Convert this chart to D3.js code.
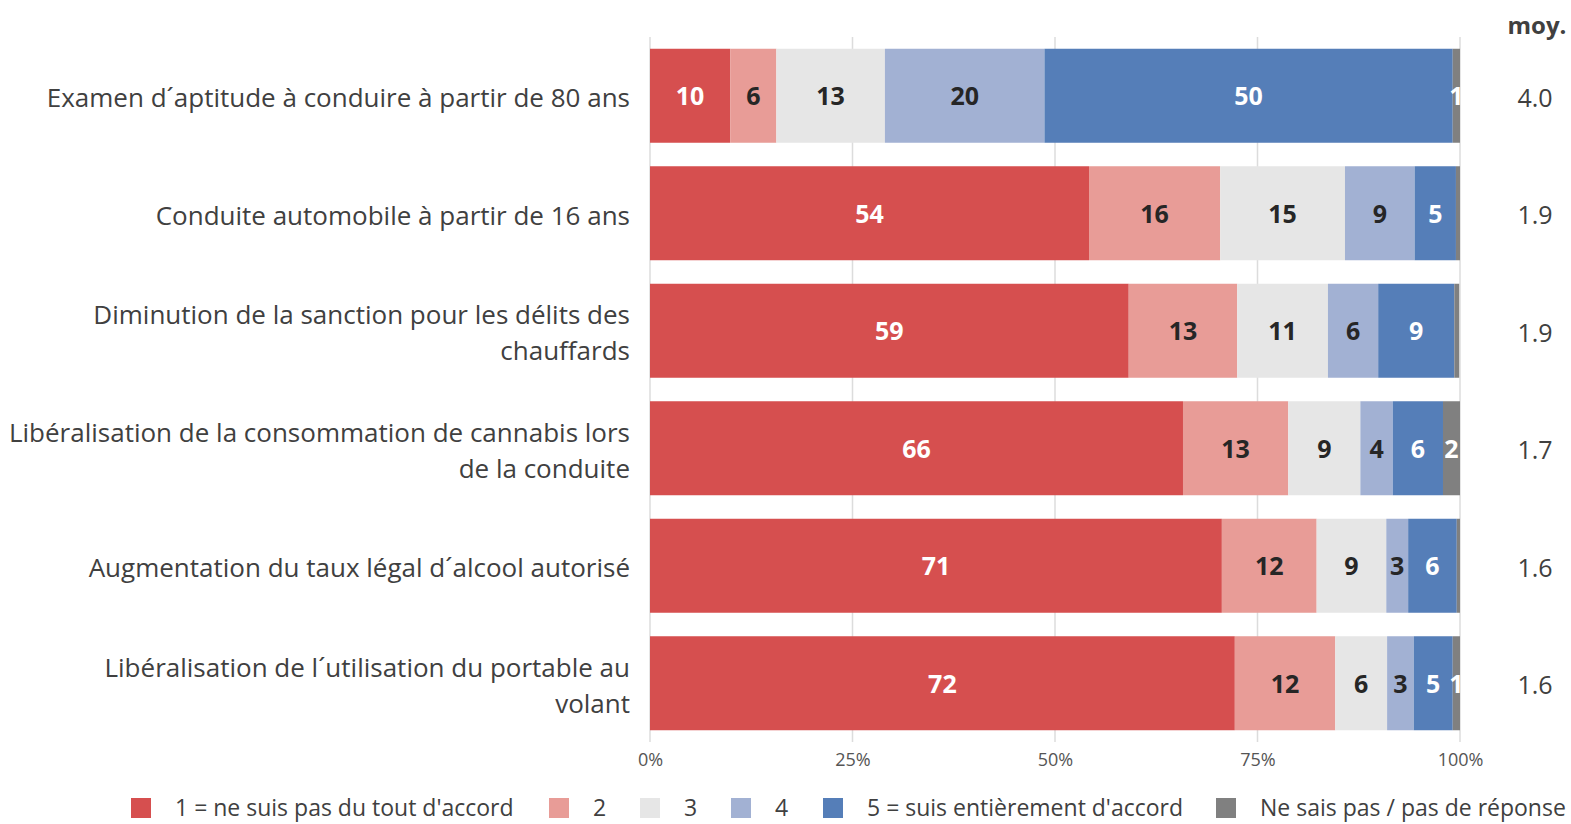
<!DOCTYPE html>
<html>
<head>
<meta charset="utf-8">
<script src="https://cdn.jsdelivr.net/npm/d3@7"></script>
<style>
  body { margin: 0; background: #fff; }
  text { font-family: "Open Sans", "Noto Sans", sans-serif; }
</style>
</head>
<body>
<div id="chart-area"></div>
<script>
const categories = [
    ["Examen d´aptitude à conduire à partir de 80 ans"],
    ["Conduite automobile à partir de 16 ans"],
    ["Diminution de la sanction pour les délits des", "chauffards"],
    ["Libéralisation de la consommation de cannabis lors", "de la conduite"],
    ["Augmentation du taux légal d´alcool autorisé"],
    ["Libéralisation de l´utilisation du portable au", "volant"]
]
const seriesNames = ["1 = ne suis pas du tout d'accord", "2", "3", "4",
    "5 = suis entièrement d'accord", "Ne sais pas / pas de réponse"]
const colors = ["#d64f4f", "#e89c97", "#e6e6e6", "#a2b1d3", "#557eb8", "#808080"]
const labelColors = ["#fff", "#262626", "#262626", "#262626", "#fff", "#fff"]

const s1 = [9.9, 54.2, 59.1, 65.8, 70.6, 72.2]
const s2 = [5.7, 16.2, 13.4, 13.0, 11.7, 12.4]
const s3 = [13.4, 15.4, 11.2, 8.9, 8.6, 6.4]
const s4 = [19.7, 8.6, 6.2, 4.0, 2.7, 3.3]
const s5 = [50.4, 5.1, 9.4, 6.2, 6.0, 4.8]
const s6 = [0.9, 0.5, 0.6, 2.1, 0.4, 0.9]
const means = ["4.0", "1.9", "1.9", "1.7", "1.6", "1.6"]
const xTicks = [0, 25, 50, 75, 100]

const MARGIN = {LEFT: 650, RIGHT: 111, TOP: 37, BOTTOM: 82}
const WIDTH = 1571 - MARGIN.LEFT - MARGIN.RIGHT
const HEIGHT = 824 - MARGIN.TOP - MARGIN.BOTTOM

const svg = d3.select("#chart-area").append("svg")
    .attr("width", 1571)
    .attr("height", 824)
const g = svg.append("g")
    .attr("transform", `translate(${MARGIN.LEFT},${MARGIN.TOP})`)

const rows = categories.map((c, i) => ({
    idx: i, name: c.join(" "), lines: c,
    s0: s1[i], s1: s2[i], s2: s3[i], s3: s4[i], s4: s5[i], s5: s6[i]
}))
const keys = ["s0", "s1", "s2", "s3", "s4", "s5"]
const stacked = d3.stack().keys(keys)(rows)

const x = d3.scaleLinear().domain([0, 100]).range([0, WIDTH])
const y = d3.scaleBand().domain(rows.map(d => d.name)).range([0, HEIGHT])
    .paddingInner(0.2).paddingOuter(0.1)

// gridlines
g.append("g").selectAll("line").data(xTicks).enter().append("line")
    .attr("x1", d => x(d)).attr("x2", d => x(d))
    .attr("y1", 0).attr("y2", HEIGHT)
    .attr("stroke", "#dcdcdc").attr("stroke-width", 1.5)

// x axis
const xAxisCall = d3.axisBottom(x).tickValues(xTicks).tickSize(0).tickPadding(11)
    .tickFormat(d => d + "%")
const xAxis = g.append("g")
    .attr("transform", `translate(0, ${HEIGHT})`)
    .call(xAxisCall)
xAxis.select(".domain").remove()
xAxis.selectAll("text").attr("font-size", "18px").attr("fill", "#555")
    .attr("font-family", "'Open Sans', sans-serif")

// bars
g.append("clipPath").attr("id", "plot-clip").append("rect")
    .attr("width", WIDTH).attr("height", HEIGHT)

const layers = g.selectAll(".layer").data(stacked).enter().append("g")
    .attr("class", "layer")
    .attr("fill", (d, i) => colors[i])
layers.selectAll("rect").data(d => d).enter().append("rect")
    .attr("x", d => x(d[0]))
    .attr("y", d => y(d.data.name))
    .attr("width", d => x(d[1]) - x(d[0]))
    .attr("height", y.bandwidth())

// segment labels
const labelGroup = g.append("g").attr("clip-path", "url(#plot-clip)")
stacked.forEach((layer, i) => {
    labelGroup.selectAll(".lbl" + i)
        .data(layer.filter(d => d[1] - d[0] >= 0.8))
        .enter().append("text")
        .attr("x", d => (x(d[0]) + x(d[1])) / 2)
        .attr("y", d => y(d.data.name) + y.bandwidth() / 2)
        .attr("dy", "0.38em")
        .attr("text-anchor", "middle")
        .attr("font-size", "25px")
        .attr("font-weight", "bold")
        .attr("fill", labelColors[i])
        .text(d => Math.round(d[1] - d[0]))
})

// category labels
const catLabels = g.selectAll(".cat").data(rows).enter().append("text")
    .attr("class", "cat")
    .attr("text-anchor", "end")
    .attr("font-size", "26px")
    .attr("fill", "#404040")
catLabels.each(function(d) {
    const n = d.lines.length
    d.lines.forEach((line, j) => {
        d3.select(this).append("tspan")
            .attr("x", -20)
            .attr("y", y(d.name) + y.bandwidth() / 2 + 2 + (j - (n - 1) / 2) * 36)
            .attr("dy", "0.36em")
            .text(line)
    })
})

// means column
svg.append("text")
    .attr("x", 1537).attr("y", 25)
    .attr("dy", "0.36em")
    .attr("text-anchor", "middle")
    .attr("font-size", "24px").attr("font-weight", "bold")
    .attr("fill", "#404040")
    .text("moy.")
g.selectAll(".mean").data(rows).enter().append("text")
    .attr("x", 1535 - MARGIN.LEFT)
    .attr("y", d => y(d.name) + y.bandwidth() / 2 + 2)
    .attr("dy", "0.36em")
    .attr("text-anchor", "middle")
    .attr("font-size", "25px")
    .attr("fill", "#404040")
    .text((d, i) => means[i])

// legend
const legendX = [131, 549, 640, 731, 823, 1216]
const legend = svg.append("g").attr("transform", "translate(0, 808)")
seriesNames.forEach((name, i) => {
    legend.append("rect")
        .attr("x", legendX[i]).attr("y", -10)
        .attr("width", 20).attr("height", 20)
        .attr("fill", colors[i])
    legend.append("text")
        .attr("x", legendX[i] + 44).attr("y", 0)
        .attr("dy", "0.36em")
        .attr("font-size", "23px")
        .attr("fill", "#404040")
        .text(name)
})
</script>
</body>
</html>
